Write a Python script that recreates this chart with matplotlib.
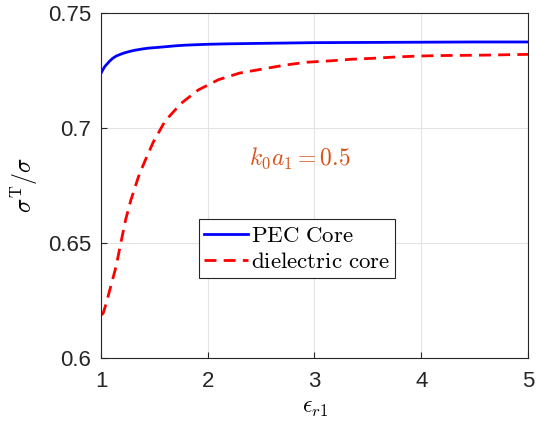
import matplotlib
matplotlib.use("Agg")
import matplotlib.pyplot as plt

plt.rcParams['mathtext.fontset'] = 'cm'
plt.rcParams['font.family'] = ['Liberation Sans', 'DejaVu Sans']

# PEC core curve
eps_pec = [1.0, 1.012, 1.035, 1.06, 1.081, 1.11, 1.143, 1.18, 1.222, 1.27, 1.316, 1.38,
           1.44, 1.52, 1.597, 1.69, 1.784, 1.89, 2.0, 2.2, 2.5, 3.0, 3.5, 4.0, 4.5, 5.0]
sig_pec = [0.7238, 0.7249, 0.7267, 0.7280, 0.7291, 0.7303, 0.7313, 0.7320, 0.7327, 0.7333,
           0.7338, 0.7343, 0.7347, 0.7350, 0.7353, 0.7357, 0.7360, 0.7362, 0.7364, 0.7366,
           0.7368, 0.7371, 0.7372, 0.7373, 0.7374, 0.7374]

# dielectric core curve
eps_diel = [1.0, 1.02, 1.05, 1.09, 1.14, 1.19, 1.23, 1.28, 1.35, 1.41, 1.49, 1.6, 1.75,
            1.91, 2.1, 2.3, 2.52, 2.73, 2.93, 3.15, 3.35, 3.55, 3.77, 3.99, 4.2, 4.43,
            4.63, 4.86, 5.0]
sig_diel = [0.6187, 0.6194, 0.6240, 0.6309, 0.6396, 0.6510, 0.6600, 0.6687, 0.6787, 0.6855,
            0.6939, 0.7030, 0.7107, 0.7165, 0.7210, 0.7239, 0.7257, 0.7274, 0.7286, 0.7292,
            0.7299, 0.7303, 0.7309, 0.7313, 0.7315, 0.7316, 0.7317, 0.7319, 0.7320]

xticks = [1, 2, 3, 4, 5]
yticks = [0.6, 0.65, 0.7, 0.75]
ytick_labels = ['0.6', '0.65', '0.7', '0.75']

fig = plt.figure(figsize=(5.46, 4.30), dpi=100)
ax = fig.add_axes([0.185, 0.1674, 0.782, 0.8024])

ax.plot(eps_pec, sig_pec, color='#0000ff', lw=2, label=r'$\mathrm{PEC\ Core}$')
ax.plot(eps_diel, sig_diel, color='#ff0000', lw=2, linestyle=(0, (4.3, 2.6)),
        label=r'$\mathrm{dielectric\ core}$')

ax.set_xlim(1, 5)
ax.set_ylim(0.6, 0.75)
ax.set_xticks(xticks)
ax.set_yticks(yticks)
ax.set_yticklabels(ytick_labels)
ax.grid(True, color='#e3e3e3', lw=0.8)
ax.set_axisbelow(True)
ax.tick_params(direction='in', length=4, width=0.8, colors='#262626', labelsize=16)
ax.tick_params(axis='x', pad=9)
ax.tick_params(axis='y', pad=7)
for s in ax.spines.values():
    s.set_color('#262626')
    s.set_linewidth(0.8)

ax.set_xlabel(r'$\epsilon_{r1}$', fontsize=17, labelpad=4)
ax.set_ylabel(r'$\sigma^{\mathrm{T}}/\sigma$', fontsize=17, labelpad=6)

ax.text(2.86, 0.687, r'$k_0a_1 = 0.5$', color='#d95319', fontsize=17, ha='center', va='center')

leg = ax.legend(loc='upper left', bbox_to_anchor=(0.2295, 0.403), fontsize=16.5,
                fancybox=False, framealpha=1, edgecolor='#262626', handlelength=1.9,
                borderpad=0.22, labelspacing=0.15, handletextpad=0.15, borderaxespad=0)
leg.get_frame().set_linewidth(0.8)

fig.savefig('out.png', dpi=100)
